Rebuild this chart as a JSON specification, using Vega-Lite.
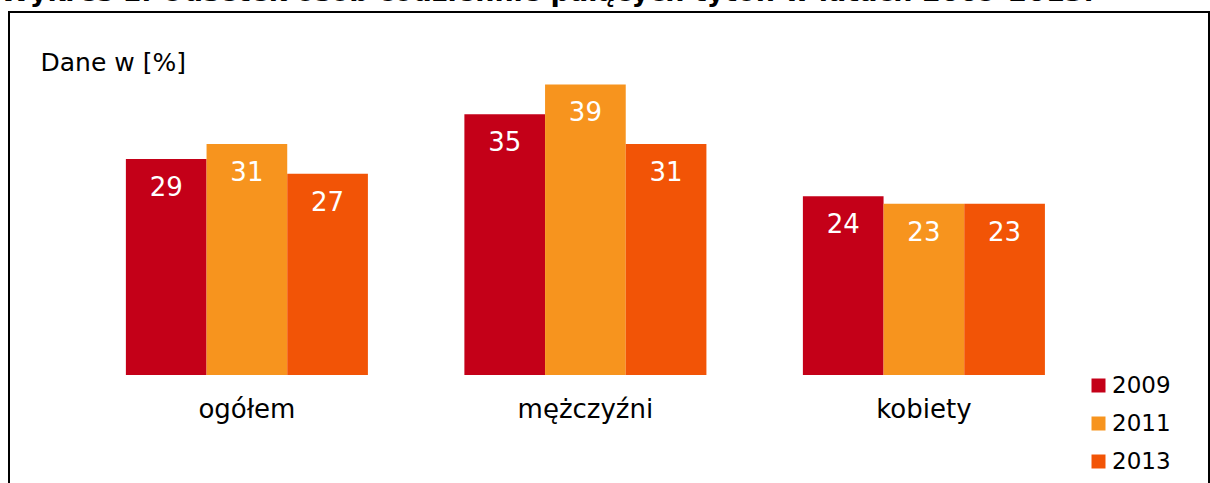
{
  "$schema": "https://vega.github.io/schema/vega-lite/v6.json",
  "width": 1200,
  "height": 480,
  "autosize": {"type": "none"},
  "padding": {"left": 9, "top": 12, "right": 1, "bottom": 0},
  "background": "white",
  "title": {
    "text": "Wykres 1. Odsetek osób codziennie palących tytoń w latach 2009-2013.",
    "anchor": "start",
    "frame": "group",
    "font": "DejaVu Sans",
    "fontSize": 27,
    "fontWeight": "bold",
    "color": "#000000",
    "baseline": "alphabetic",
    "offset": 6,
    "dx": -9,
    "dy": 22
  },
  "data": {
    "values": [
      {"grupa": "ogółem", "rok": "2009", "wartosc": 29},
      {"grupa": "ogółem", "rok": "2011", "wartosc": 31},
      {"grupa": "ogółem", "rok": "2013", "wartosc": 27},
      {"grupa": "mężczyźni", "rok": "2009", "wartosc": 35},
      {"grupa": "mężczyźni", "rok": "2011", "wartosc": 39},
      {"grupa": "mężczyźni", "rok": "2013", "wartosc": 31},
      {"grupa": "kobiety", "rok": "2009", "wartosc": 24},
      {"grupa": "kobiety", "rok": "2011", "wartosc": 23},
      {"grupa": "kobiety", "rok": "2013", "wartosc": 23}
    ]
  },
  "encoding": {
    "x": {
      "field": "grupa",
      "type": "nominal",
      "sort": ["ogółem", "mężczyźni", "kobiety"],
      "scale": {"paddingInner": 0.285, "paddingOuter": 0.415, "align": 0.416},
      "axis": {
        "title": null,
        "orient": "bottom",
        "offset": -117,
        "domain": false,
        "ticks": false,
        "labelAngle": 0,
        "labelFont": "DejaVu Sans",
        "labelFontSize": 26,
        "labelColor": "#000000",
        "labelBaseline": "alphabetic",
        "labelPadding": 42
      }
    },
    "xOffset": {
      "field": "rok",
      "type": "nominal",
      "scale": {"paddingInner": 0, "paddingOuter": 0}
    },
    "y": {
      "field": "wartosc",
      "type": "quantitative",
      "scale": {"domain": [0, 40], "range": [363, 65], "nice": false, "zero": true},
      "axis": {
        "title": "Dane w [%]",
        "titleAngle": 0,
        "titleAlign": "left",
        "titleBaseline": "alphabetic",
        "titleX": 31,
        "titleY": 58,
        "titleFont": "DejaVu Sans",
        "titleFontSize": 25,
        "titleFontWeight": "normal",
        "titleColor": "#000000",
        "labels": false,
        "ticks": false,
        "domain": false,
        "grid": false
      }
    }
  },
  "layer": [
    {
      "mark": {"type": "bar"},
      "encoding": {
        "color": {
          "field": "rok",
          "type": "nominal",
          "scale": {"domain": ["2009", "2011", "2013"], "range": ["#c40018", "#f7941e", "#f25406"]},
          "legend": {
            "title": null,
            "orient": "none",
            "legendX": 1078,
            "legendY": 362,
            "symbolType": "square",
            "symbolSize": 196,
            "symbolStrokeWidth": 0,
            "symbolOpacity": 1,
            "labelFont": "DejaVu Sans",
            "labelFontSize": 23,
            "labelColor": "#000000",
            "labelOffset": 2,
            "rowPadding": 14
          }
        }
      }
    },
    {
      "mark": {"type": "text", "color": "white", "font": "DejaVu Sans", "fontSize": 26, "baseline": "middle", "dy": 29},
      "encoding": {
        "text": {"field": "wartosc", "type": "quantitative"}
      }
    }
  ],
  "config": {
    "view": {"stroke": "#000000", "strokeWidth": 2},
    "legend": {"padding": 0}
  }
}
